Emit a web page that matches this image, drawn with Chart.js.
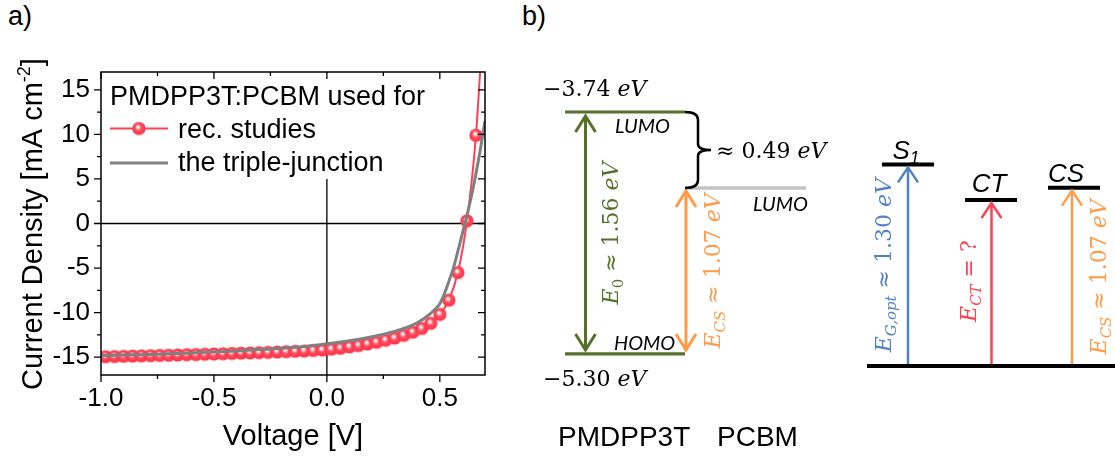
<!DOCTYPE html>
<html>
<head>
<meta charset="utf-8">
<script src="https://cdn.jsdelivr.net/npm/chart.js@4.4.1/dist/chart.umd.min.js"></script>
<style>
    html, body { margin: 0; padding: 0; background: #fff; }
    body { width: 1115px; height: 456px; position: relative; overflow: hidden; font-family: 'Liberation Sans', Arial, sans-serif; }
    #jv { position: absolute; left: 0; top: 0; }
    #levels { position: absolute; left: 500px; top: 0; }
    .tag { position: absolute; font-size: 27px; line-height: 1; color: #000; }
</style>
</head>
<body>
<div class="tag" style="left:8px; top:3px">a)</div>
<div class="tag" style="left:522px; top:3px">b)</div>
<canvas id="jv" width="500" height="456"></canvas>
<canvas id="levels" width="615" height="456"></canvas>
<script>
// ---- panel a: J-V curves ----
const recVoltage = [-0.98, -0.94, -0.90, -0.86, -0.82, -0.78, -0.74, -0.70, -0.66, -0.62,
    -0.58, -0.54, -0.50, -0.46, -0.42, -0.38, -0.34, -0.30, -0.26, -0.22,
    -0.18, -0.14, -0.10, -0.06, -0.02, 0.02, 0.06, 0.10, 0.14, 0.18,
    0.22, 0.26, 0.30, 0.34, 0.38, 0.42, 0.46, 0.50, 0.54, 0.58, 0.62, 0.66];
const recCurrent = [-14.95, -14.93, -14.90, -14.88, -14.85, -14.83, -14.80, -14.78, -14.75, -14.72,
    -14.70, -14.67, -14.64, -14.61, -14.58, -14.55, -14.52, -14.49, -14.46, -14.42,
    -14.38, -14.34, -14.30, -14.25, -14.20, -14.10, -14.00, -13.85, -13.70, -13.52,
    -13.33, -13.10, -12.85, -12.55, -12.20, -11.78, -11.20, -10.20, -8.60, -5.50, 0.30, 9.90];
// line continues past the last marker
const recTailVoltage = [0.70];
const recTailCurrent = [26.5];

const tjVoltage = [-1.0, -0.9, -0.8, -0.7, -0.6, -0.5, -0.4, -0.3, -0.2, -0.1,
    0.0, 0.1, 0.2, 0.3, 0.35, 0.4, 0.45, 0.48, 0.50, 0.52,
    0.54, 0.56, 0.58, 0.60, 0.62, 0.64, 0.66, 0.68, 0.70];
const tjCurrent = [-14.80, -14.75, -14.70, -14.62, -14.53, -14.43, -14.30, -14.15, -14.00, -13.80,
    -13.50, -13.15, -12.70, -12.10, -11.70, -11.15, -10.30, -9.60, -9.00, -7.90,
    -6.50, -5.00, -3.10, -1.10, 0.90, 3.10, 5.60, 8.40, 11.50];

const seriesLabels = ['rec. studies', 'the triple-junction'];
const legendTitle = 'PMDPP3T:PCBM used for';

// ---- panel b: energy levels ----
const donorLevels = [-3.74, -5.30];      // PMDPP3T LUMO, HOMO (eV)
const acceptorLevels = [-4.23];          // PCBM LUMO (eV)
const stateNames = ['S1', 'CT', 'CS'];
const stateHeights = [1.30, 1.07, 1.15]; // drawn above ground state (eV)
const groundLevel = [0];

const RED = '#ff4052';
const GRAY = '#808080';
const GREEN = '#56702b';
const ORANGE = '#ff9a48';
const BLUE = '#5282c0';
const SANS = "'Liberation Sans', Arial, sans-serif";
const SERIF = "'DejaVu Serif', serif";

Chart.defaults.font.family = SANS;
Chart.defaults.color = '#000';

// shaded ball marker
function makeBall(r) {
    const c = document.createElement('canvas');
    const s = Math.ceil(r * 2) + 2;
    c.width = c.height = s;
    const g = c.getContext('2d');
    const m = s / 2;
    const grad = g.createRadialGradient(m - 1.2, m - 1.8, 0.2, m, m, r);
    grad.addColorStop(0, '#ffffff');
    grad.addColorStop(0.2, '#ffd2d6');
    grad.addColorStop(0.45, '#ff5062');
    grad.addColorStop(1, '#ff3046');
    g.fillStyle = grad;
    g.beginPath();
    g.arc(m, m, r, 0, Math.PI * 2);
    g.fill();
    return c;
}
const ball = makeBall(6.6);

const recPoints = recVoltage.map((v, i) => ({ x: v, y: recCurrent[i] }))
    .concat(recTailVoltage.map((v, i) => ({ x: v, y: recTailCurrent[i] })));
const recRadius = recPoints.map((p, i) => i < recVoltage.length ? 6 : 0);
const tjPoints = tjVoltage.map((v, i) => ({ x: v, y: tjCurrent[i] }));

function minorValues(ticks, min, max) {
    const vals = ticks.map(t => t.value);
    const out = [];
    if (vals.length < 2) return out;
    const step = vals[1] - vals[0];
    for (let v = vals[0] - step / 2; v <= max + 1e-9; v += step) {
        if (v >= min - 1e-9) out.push(v);
    }
    return out;
}

const jvDecor = {
    id: 'jvDecor',
    beforeDatasetsDraw(chart) {
        const { ctx, chartArea: ca, scales: { x, y } } = chart;
        ctx.save();
        ctx.strokeStyle = '#000';
        ctx.lineWidth = 1.3;
        ctx.beginPath();
        const x0 = x.getPixelForValue(0), y0 = y.getPixelForValue(0);
        ctx.moveTo(x0, ca.top); ctx.lineTo(x0, ca.bottom);
        ctx.moveTo(ca.left, y0); ctx.lineTo(ca.right, y0);
        ctx.stroke();
        ctx.restore();
    },
    afterDatasetsDraw(chart) {
        const { ctx, chartArea: ca, scales: { x, y } } = chart;
        ctx.save();

        // legend box
        ctx.fillStyle = '#fff';
        ctx.fillRect(ca.left + 1, ca.top + 1, 345, 106);
        ctx.fillStyle = '#000';
        ctx.font = '27px ' + SANS;
        ctx.textBaseline = 'alphabetic';
        ctx.fillText(legendTitle, 110, 104.5);
        const ds = chart.data.datasets;
        const rows = [128.5, 163];
        const bases = [137.5, 171];
        ds.forEach((d, i) => {
            ctx.strokeStyle = d.borderColor;
            ctx.lineWidth = d.borderWidth;
            ctx.beginPath();
            ctx.moveTo(110, rows[i]); ctx.lineTo(168, rows[i]);
            ctx.stroke();
            if (i === 0) ctx.drawImage(ball, 139 - ball.width / 2, rows[i] - ball.height / 2);
            ctx.fillStyle = '#000';
            ctx.fillText(d.label, 178, bases[i]);
        });

        // frame
        ctx.strokeStyle = '#000';
        ctx.lineWidth = 1.5;
        ctx.strokeRect(ca.left, ca.top, ca.right - ca.left, ca.bottom - ca.top);

        // ticks: outward on left/bottom, inward on top/right
        ctx.lineWidth = 1.3;
        ctx.beginPath();
        const xMaj = x.ticks.map(t => t.value);
        const yMaj = y.ticks.map(t => t.value);
        const xMin = minorValues(x.ticks, x.min, x.max);
        const yMin = minorValues(y.ticks, y.min, y.max);
        [[xMaj, 7], [xMin, 4]].forEach(([vals, len]) => vals.forEach(v => {
            const px = x.getPixelForValue(v);
            ctx.moveTo(px, ca.bottom); ctx.lineTo(px, ca.bottom + len);
            ctx.moveTo(px, ca.top); ctx.lineTo(px, ca.top + len);
        }));
        [[yMaj, 7], [yMin, 4]].forEach(([vals, len]) => vals.forEach(v => {
            const py = y.getPixelForValue(v);
            ctx.moveTo(ca.left - len, py); ctx.lineTo(ca.left, py);
            ctx.moveTo(ca.right - len, py); ctx.lineTo(ca.right, py);
        }));
        ctx.stroke();

        // y title with superscript
        ctx.translate(42, 224);
        ctx.rotate(-Math.PI / 2);
        const main = 'Current Density [mA cm';
        ctx.font = '29px ' + SANS;
        const w1 = ctx.measureText(main).width;
        const w3 = ctx.measureText(']').width;
        ctx.font = '18px ' + SANS;
        const w2 = ctx.measureText('-2').width;
        let tx = -(w1 + w2 + w3) / 2;
        ctx.font = '29px ' + SANS;
        ctx.fillText(main, tx, 0);
        tx += w1;
        ctx.font = '18px ' + SANS;
        ctx.fillText('-2', tx, -12);
        tx += w2;
        ctx.font = '29px ' + SANS;
        ctx.fillText(']', tx, 0);
        ctx.restore();
    }
};

new Chart(document.getElementById('jv'), {
    type: 'scatter',
    data: {
        datasets: [{
            label: seriesLabels[0],
            data: recPoints,
            showLine: true,
            borderColor: RED,
            borderWidth: 2,
            pointStyle: ball,
            pointRadius: recRadius,
            cubicInterpolationMode: 'monotone',
            order: 1
        }, {
            label: seriesLabels[1],
            data: tjPoints,
            showLine: true,
            borderColor: GRAY,
            borderWidth: 3,
            pointRadius: 0,
            cubicInterpolationMode: 'monotone',
            order: 0
        }]
    },
    options: {
        responsive: false,
        animation: false,
        events: [],
        layout: { padding: { top: 72, right: 15, left: 0, bottom: 0 } },
        plugins: { legend: { display: false }, tooltip: { enabled: false } },
        scales: {
            x: {
                type: 'linear',
                min: -1,
                max: 0.7,
                afterFit: s => { s.height = 81; },
                grid: { display: false, drawTicks: false },
                border: { display: false },
                ticks: {
                    stepSize: 0.5,
                    includeBounds: false,
                    padding: 8,
                    color: '#000',
                    font: { size: 26 },
                    callback: v => v.toFixed(1)
                },
                title: {
                    display: true,
                    text: 'Voltage [V]',
                    color: '#000',
                    font: { size: 29 },
                    padding: { top: 0, bottom: 2 }
                }
            },
            y: {
                type: 'linear',
                min: -17,
                max: 17,
                afterFit: s => { s.width = 101; },
                grid: { display: false, drawTicks: false },
                border: { display: false },
                ticks: {
                    stepSize: 5,
                    includeBounds: false,
                    padding: 11,
                    color: '#000',
                    font: { size: 26 }
                }
            }
        }
    },
    plugins: [jvDecor]
});

// ---- panel b ----
// horizontal layout of the schematic, in page pixels
const bx = {
    donor: [565, 685], acceptor: [685, 806],
    arrowE0: 585.5, arrowECS: 686,
    braceIn: 685, braceBar: 698, braceTip: 711,
    ground: [867, 1115],
    states: [[882, 934], [965, 1017], [1048, 1100]],
    stateArrows: [908, 991.5, 1072]
};

function levelSet(label, xr, e, color, width, axis) {
    return {
        label: label,
        data: [{ x: xr[0], y: e }, { x: xr[1], y: e }],
        showLine: true,
        borderColor: color,
        borderWidth: width,
        borderCapStyle: 'butt',
        pointRadius: 0,
        yAxisID: axis,
        clip: false
    };
}

const levelDatasets = [
    levelSet('PMDPP3T LUMO', bx.donor, donorLevels[0], GREEN, 3.2, 'y'),
    levelSet('PMDPP3T HOMO', bx.donor, donorLevels[1], GREEN, 3.2, 'y'),
    levelSet('PCBM LUMO', bx.acceptor, acceptorLevels[0], '#c3c3c3', 3.5, 'y'),
    levelSet('ground', bx.ground, groundLevel[0], '#000', 4, 'y2')
].concat(stateNames.map((n, i) => levelSet(n, bx.states[i], stateHeights[i], '#000', 4, 'y2')));

function rich(ctx, runs, size) {
    let w = 0;
    runs.forEach(r => {
        const fs = r.sub ? size * 0.68 : size;
        r._font = (r.it ? 'italic ' : '') + fs + 'px ' + (r.fam || SERIF);
        ctx.font = r._font;
        r._w = ctx.measureText(r.t).width;
        w += r._w;
    });
    return w;
}

function drawRich(ctx, runs, cx, cy, size, color, rot, align) {
    ctx.save();
    ctx.translate(cx, cy);
    ctx.rotate(rot || 0);
    ctx.fillStyle = color;
    ctx.textBaseline = 'alphabetic';
    const w = rich(ctx, runs, size);
    let x = align === 'left' ? 0 : -w / 2;
    const base = size * 0.36;
    runs.forEach(r => {
        ctx.font = r._font;
        ctx.fillText(r.t, x, r.sub ? base + size * 0.22 : base);
        x += r._w;
    });
    ctx.restore();
}

function chevron(ctx, x, y, dir, half, len) {
    // dir = -1 tip points up, +1 tip points down
    ctx.beginPath();
    ctx.moveTo(x - half, y - dir * len);
    ctx.lineTo(x, y);
    ctx.lineTo(x + half, y - dir * len);
    ctx.stroke();
}

function arrow(ctx, x, yFrom, yTo, color, width, twoWay, half, len) {
    ctx.save();
    ctx.strokeStyle = color;
    ctx.lineWidth = width;
    ctx.lineJoin = 'miter';
    ctx.beginPath();
    ctx.moveTo(x, yFrom); ctx.lineTo(x, yTo);
    ctx.stroke();
    chevron(ctx, x, yTo, yTo < yFrom ? -1 : 1, half, len);
    if (twoWay) chevron(ctx, x, yFrom, yFrom < yTo ? -1 : 1, half, len);
    ctx.restore();
}

const diagram = {
    id: 'diagram',
    afterDatasetsDraw(chart) {
        const { ctx, scales: { x, y, y2 } } = chart;
        const X = v => x.getPixelForValue(v);
        const lumo = y.getPixelForValue(donorLevels[0]);
        const homo = y.getPixelForValue(donorLevels[1]);
        const acc = y.getPixelForValue(acceptorLevels[0]);
        const gnd = y2.getPixelForValue(groundLevel[0]);

        // arrows
        arrow(ctx, X(bx.arrowE0), homo - 4, lumo + 4, GREEN, 3, true, 10, 16);
        arrow(ctx, X(bx.arrowECS), homo - 4, acc + 3, ORANGE, 3, true, 10, 16);
        const stateColors = [BLUE, RED, ORANGE];
        stateHeights.forEach((h, i) => {
            arrow(ctx, X(bx.stateArrows[i]), gnd - 2, y2.getPixelForValue(h) + 3, stateColors[i], 2.5, false, 10, 15);
        });

        // brace between the two LUMOs
        const mid = (lumo + acc) / 2;
        ctx.save();
        ctx.strokeStyle = '#000';
        ctx.lineWidth = 2.5;
        ctx.beginPath();
        ctx.moveTo(X(bx.braceIn), lumo);
        ctx.quadraticCurveTo(X(bx.braceBar), lumo, X(bx.braceBar), lumo + 8);
        ctx.lineTo(X(bx.braceBar), mid - 6);
        ctx.quadraticCurveTo(X(bx.braceBar), mid, X(bx.braceTip), mid);
        ctx.quadraticCurveTo(X(bx.braceBar), mid, X(bx.braceBar), mid + 6);
        ctx.lineTo(X(bx.braceBar), acc - 8);
        ctx.quadraticCurveTo(X(bx.braceBar), acc, X(bx.braceIn), acc);
        ctx.stroke();
        ctx.restore();

        // energy values
        const eV = { t: 'eV', it: true };
        const fmt = v => '\u2212' + Math.abs(v).toFixed(2) + ' ';
        drawRich(ctx, [{ t: fmt(donorLevels[0]) }, eV], X(543), lumo - 24, 22, '#000', 0, 'left');
        drawRich(ctx, [{ t: fmt(donorLevels[1]) }, eV], X(543), homo + 24, 22, '#000', 0, 'left');
        const gap = (donorLevels[0] - acceptorLevels[0]).toFixed(2);
        drawRich(ctx, [{ t: '\u2248 ' + gap + ' ' }, eV], X(716), mid, 22, '#000', 0, 'left');

        // orbital labels
        const small = { it: true, fam: "'Lato', " + SANS };
        drawRich(ctx, [{ ...small, t: 'LUMO' }], X(615), lumo + 14, 20, '#000', 0, 'left');
        drawRich(ctx, [{ ...small, t: 'HOMO' }], X(614), homo - 11, 20, '#000', 0, 'left');
        drawRich(ctx, [{ ...small, t: 'LUMO' }], X(753), acc + 16, 20, '#000', 0, 'left');

        // rotated gap labels
        const gE0 = (donorLevels[0] - donorLevels[1]).toFixed(2);
        const gCS = (acceptorLevels[0] - donorLevels[1]).toFixed(2);
        const up = -Math.PI / 2;
        drawRich(ctx, [{ t: 'E', it: true }, { t: '0', sub: true }, { t: ' \u2248 ' + gE0 + ' ' }, eV],
            X(610), (lumo + homo) / 2, 22, GREEN, up);
        drawRich(ctx, [{ t: 'E', it: true }, { t: 'CS', it: true, sub: true }, { t: ' \u2248 ' + gCS + ' ' }, eV],
            X(712), (acc + homo) / 2, 22, ORANGE, up);

        const s = stateHeights.map(h => y2.getPixelForValue(h));
        drawRich(ctx, [{ t: 'E', it: true }, { t: 'G,opt', it: true, sub: true }, { t: ' \u2248 ' + stateHeights[0].toFixed(2) + ' ' }, eV],
            X(883), (gnd + s[0]) / 2, 22, BLUE, up);
        drawRich(ctx, [{ t: 'E', it: true }, { t: 'CT', it: true, sub: true }, { t: ' = ?' }],
            X(968), (gnd + s[1]) / 2 - 2, 22, RED, up);
        drawRich(ctx, [{ t: 'E', it: true }, { t: 'CS', it: true, sub: true }, { t: ' \u2248 ' + gCS + ' ' }, eV],
            X(1098), (gnd + s[2]) / 2, 22, ORANGE, up);

        // state names
        const big = { it: true, fam: SANS };
        drawRich(ctx, [{ ...big, t: 'S' }, { ...big, t: '1', sub: true }], X(906), s[0] - 15, 26, '#000', 0);
        drawRich(ctx, [{ ...big, t: 'CT' }], X(989), s[1] - 17, 26, '#000', 0);
        drawRich(ctx, [{ ...big, t: 'CS' }], X(1066), s[2] - 15, 26, '#000', 0);

        // material names
        ctx.save();
        ctx.fillStyle = '#000';
        ctx.font = '28px ' + SANS;
        ctx.textBaseline = 'alphabetic';
        ctx.fillText('PMDPP3T', X(558), 446);
        ctx.fillText('PCBM', X(717), 446);
        ctx.restore();
    }
};

new Chart(document.getElementById('levels'), {
    type: 'scatter',
    data: { datasets: levelDatasets },
    options: {
        responsive: false,
        animation: false,
        events: [],
        layout: { padding: 0 },
        plugins: { legend: { display: false }, tooltip: { enabled: false } },
        scales: {
            x: { type: 'linear', min: 500, max: 1115, display: false },
            y: { type: 'linear', min: -5.958, max: -3.018, display: false },
            y2: { type: 'linear', position: 'right', min: -0.580, max: 2.360, display: false }
        }
    },
    plugins: [diagram]
});
</script>
</body>
</html>
